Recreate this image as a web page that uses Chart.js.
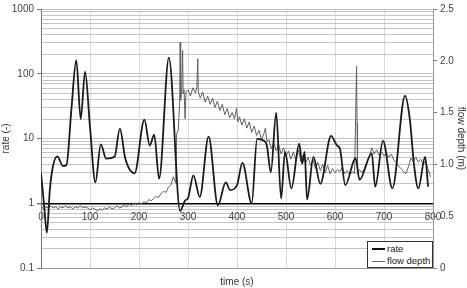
<!DOCTYPE html>
<html>
<head>
<meta charset="utf-8">
<script src="https://cdn.jsdelivr.net/npm/chart.js@4/dist/chart.umd.min.js"></script>
<style>
  body { margin: 0; background: #fff; }
  #wrap { position: relative; width: 467px; height: 288px; }
  #legendBox {
    position: absolute; left: 367px; top: 241px; width: 64px; height: 25px;
    border: 1px solid #333; background: #fff;
    font: 9.5px "Liberation Sans", Arial, sans-serif; color: #222;
  }
  .row { position: absolute; left: 4px; height: 12px; line-height: 12px; white-space: nowrap; }
  .sample { display: inline-block; width: 13px; vertical-align: middle; margin-right: 2px; }
</style>
</head>
<body>
<div id="wrap">
  <canvas id="myChart"></canvas>
  <div id="legendBox">
    <div class="row" style="top:1px"><span class="sample" style="border-top:2px solid #111"></span>rate</div>
    <div class="row" style="top:13px"><span class="sample" style="border-top:1px solid #666"></span>flow depth</div>
  </div>
</div>
<script>
// rate (left, log axis)
const rateTime  = [0, 6, 12, 18, 24, 33, 45, 52, 62, 72, 81, 90, 100, 111, 122, 133, 150, 161, 172, 191,
                   211, 222, 231, 241, 261, 284, 294, 300, 311, 324, 342, 361, 377, 386, 400, 411, 430, 441, 454, 461,
                   469, 480, 490, 498, 511, 527, 533, 538, 543, 556, 570, 592, 604, 610, 621, 642, 650, 675, 682, 698,
                   717, 743, 753, 761, 770, 784, 790];
const rateValue = [2.9, 1.0, 0.35, 1.6, 3.6, 5.3, 3.75, 3.9, 28, 162, 20, 108, 15, 2.1, 8.1, 4.9, 5.2, 14.2, 4.9, 2.9,
                   19.6, 7.8, 11.5, 2.4, 178, 0.76, 1.1, 1.2, 2.7, 1.25, 10.7, 0.93, 2.1, 1.6, 1.9, 4.2, 1.0, 9.9, 9.3, 7.8,
                   3.0, 25, 1.18, 6.2, 1.7, 8.3, 4.1, 6.2, 1.15, 5.2, 2.0, 11, 7.8, 7.0, 1.9, 5.0, 2.3, 5.9, 1.8, 9.2,
                   1.7, 45.7, 19, 4.1, 1.7, 5.2, 1.8];

// flow depth (right axis)
const depthTime  = [0, 5, 10, 15, 20, 25, 30, 35, 40, 45,
                    50, 55, 60, 65, 70, 75, 80, 85, 90, 95,
                    100, 105, 110, 115, 120, 125, 130, 135, 140, 145,
                    150, 155, 160, 165, 170, 175, 180, 185, 190, 195,
                    200, 205, 210, 215, 220, 225, 230, 235, 240, 245,
                    250, 255, 260, 265, 270, 275, 277, 280, 283, 284,
                    285, 287, 289, 290, 292, 294, 296, 300, 305, 310,
                    315, 318, 320, 321, 325, 330, 335, 340, 345, 350,
                    355, 360, 365, 370, 375, 380, 385, 390, 395, 399,
                    402, 405, 410, 415, 420, 425, 430, 435, 440, 445,
                    450, 455, 458, 461, 465, 470, 475, 480, 485, 490,
                    495, 500, 505, 510, 515, 520, 526, 530, 535, 540,
                    545, 550, 555, 560, 565, 570, 575, 580, 585, 590,
                    595, 600, 605, 610, 615, 620, 625, 630, 635, 640,
                    644, 645, 646, 650, 655, 660, 665, 670, 675, 680,
                    685, 690, 695, 700, 705, 710, 715, 720, 725, 730,
                    735, 740, 745, 750, 755, 760, 765, 770, 775, 780,
                    785, 790, 795];
const depthValue = [0.60, 0.57, 0.59, 0.58, 0.60, 0.58, 0.59, 0.57, 0.59, 0.58,
                    0.60, 0.58, 0.59, 0.57, 0.59, 0.58, 0.60, 0.58, 0.59, 0.58,
                    0.56, 0.58, 0.57, 0.55, 0.57, 0.56, 0.58, 0.57, 0.59, 0.57,
                    0.58, 0.60, 0.58, 0.59, 0.61, 0.59, 0.62, 0.60, 0.63, 0.61,
                    0.63, 0.62, 0.64, 0.63, 0.66, 0.65, 0.67, 0.69, 0.68, 0.72,
                    0.74, 0.73, 0.78, 0.80, 0.88, 0.82, 1.30, 1.33, 1.60, 2.18,
                    1.62, 1.70, 2.10, 1.68, 1.72, 1.44, 1.70, 1.72, 1.66, 1.74,
                    1.69, 1.74, 2.02, 1.70, 1.64, 1.70, 1.60, 1.66, 1.58, 1.64,
                    1.55, 1.61, 1.52, 1.58, 1.48, 1.54, 1.45, 1.50, 1.44, 1.54,
                    1.41, 1.46, 1.38, 1.44, 1.35, 1.41, 1.31, 1.37, 1.28, 1.33,
                    1.24, 1.30, 1.35, 1.22, 1.24, 1.15, 1.21, 1.13, 1.19, 1.10,
                    1.16, 1.08, 1.13, 1.05, 1.12, 1.04, 1.14, 1.03, 1.09, 1.01,
                    1.07, 0.99, 1.05, 0.96, 1.02, 0.94, 1.00, 0.92, 0.99, 0.91,
                    0.96, 0.92, 0.95, 0.93, 0.97, 0.91, 0.94, 0.90, 0.93, 0.91,
                    1.95, 1.40, 0.92, 0.95, 0.92, 0.96, 1.02, 1.08, 1.16, 1.10,
                    1.14, 1.09, 1.12, 1.08, 1.11, 1.07, 1.10, 1.04, 1.02, 0.98,
                    0.96, 0.93, 0.91, 0.98, 1.06, 1.03, 1.07, 1.02, 1.05, 1.00,
                    1.03, 0.95, 0.88];

// axis ticks
const rateDecades = [0.1, 1, 10, 100, 1000];
const timeTicks = [0, 100, 200, 300, 400, 500, 600, 700, 800];
const depthTicks = [0, 0.5, 1, 1.5, 2, 2.5];

const isDecade = v => rateDecades.some(d => Math.abs(d - v) < 1e-9 * d);

Chart.defaults.font.family = '"Liberation Sans", Arial, sans-serif';
Chart.defaults.font.size = 10;
Chart.defaults.color = '#333';

new Chart(document.getElementById("myChart"), {
  type: 'line',
  data: {
    datasets: [{
        label: 'rate',
        data: rateTime.map((t, i) => ({ x: t, y: rateValue[i] })),
        borderColor: "#1a1a1a",
        borderWidth: 1.8,
        pointRadius: 0,
        cubicInterpolationMode: 'monotone',
        xAxisID: 'x',
        yAxisID: 'y'
      }, {
        label: 'flow depth',
        data: depthTime.map((t, i) => ({ x: t, y: depthValue[i] })),
        borderColor: "#606060",
        borderWidth: 1,
        pointRadius: 0,
        tension: 0,
        xAxisID: 'x',
        yAxisID: 'y2'
      }
    ]
  },
  options: {
    responsive: true,
    maintainAspectRatio: false,
    animation: false,
    layout: { padding: { top: 8 } },
    plugins: {
        legend: { display: false },
        tooltip: { enabled: false }
    },
    scales: {
        x: {
           type: 'linear', position: 'bottom', min: 0, max: 800,
           grid: { color: '#d9d9d9', drawTicks: false },
           border: { color: '#999' },
           ticks: { display: false, stepSize: 100 },
           title: { display: true, text: 'time (s)', padding: 0 },
           afterFit: s => { s.height = 20; }
        },
        xLabels: {
           type: 'linear', position: { y: 1 }, min: 0, max: 800,
           afterBuildTicks: s => { s.ticks = timeTicks.map(v => ({ value: v })); },
           grid: { display: false, drawTicks: false },
           border: { display: false },
           ticks: { padding: 8, color: '#444' }
        },
        y: {
           type: 'logarithmic', position: 'left', min: 0.1, max: 1000,
           afterBuildTicks: s => {
             const vals = [];
             for (let e = -1; e < 3; e++) for (let m = 1; m < 10; m++) vals.push(m * Math.pow(10, e));
             vals.push(1000);
             s.ticks = vals.map(v => ({ value: v }));
           },
           grid: {
             color: c => (c.tick && Math.abs(c.tick.value - 1) < 1e-9) ? '#000' : '#c4c4c4',
             lineWidth: c => (c.tick && Math.abs(c.tick.value - 1) < 1e-9) ? 1.5 : 1,
             tickColor: c => (c.tick && isDecade(c.tick.value)) ? '#777' : 'rgba(0,0,0,0)',
             tickLength: 4
           },
           border: { color: '#777' },
           ticks: {
             autoSkip: false, padding: 3, color: '#444',
             callback: v => isDecade(v) ? String(v) : ''
           },
           title: { display: true, text: 'rate (-)', padding: 0 },
           afterFit: s => { s.width = 41; }
        },
        y2: {
           type: 'linear', position: 'right', min: 0, max: 2.5,
           afterBuildTicks: s => { s.ticks = depthTicks.map(v => ({ value: v })); },
           grid: { drawOnChartArea: false, tickLength: 4, tickColor: '#777' },
           border: { color: '#999' },
           ticks: { padding: 3, color: '#444' },
           title: { display: true, text: 'flow depth (m)', padding: 0 },
           afterFit: s => { s.width = 34; }
        }
    }
  }
});
</script>
</body>
</html>
